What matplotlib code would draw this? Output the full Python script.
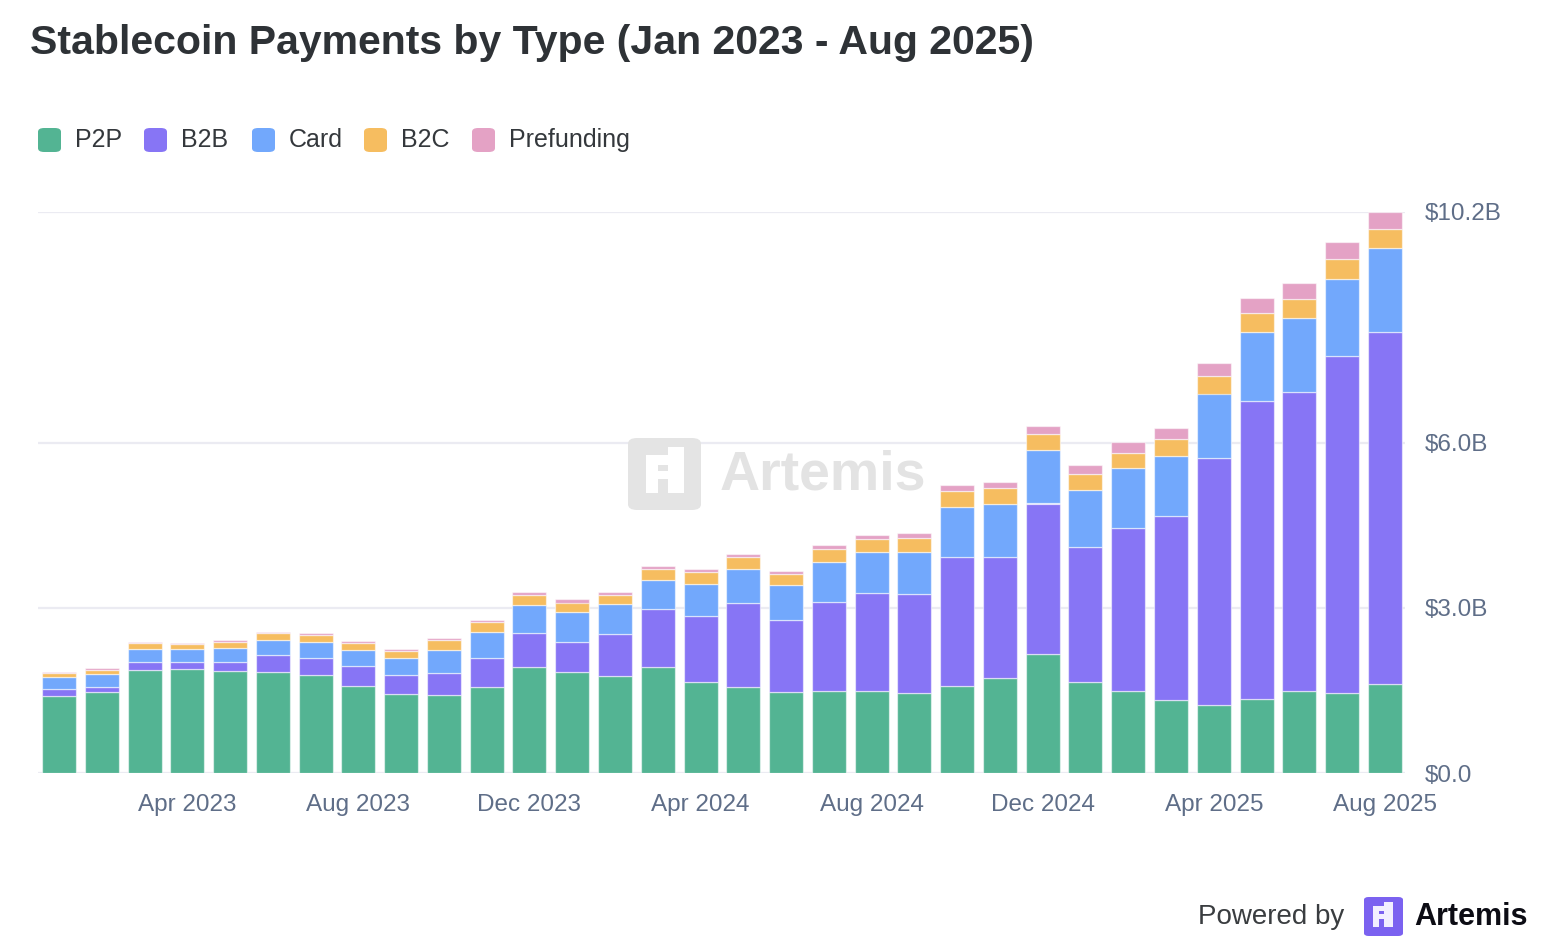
import numpy as np
import matplotlib
matplotlib.use("Agg")
import matplotlib.pyplot as plt
from matplotlib.patches import FancyBboxPatch, Rectangle

plt.rcParams['font.family'] = ['Liberation Sans', 'DejaVu Sans']

# monthly values, Jan 2023 .. Aug 2025, in $B
months = ['Jan 2023', 'Feb 2023', 'Mar 2023', 'Apr 2023', 'May 2023', 'Jun 2023', 'Jul 2023', 'Aug 2023',
          'Sep 2023', 'Oct 2023', 'Nov 2023', 'Dec 2023', 'Jan 2024', 'Feb 2024', 'Mar 2024', 'Apr 2024',
          'May 2024', 'Jun 2024', 'Jul 2024', 'Aug 2024', 'Sep 2024', 'Oct 2024', 'Nov 2024', 'Dec 2024',
          'Jan 2025', 'Feb 2025', 'Mar 2025', 'Apr 2025', 'May 2025', 'Jun 2025', 'Jul 2025', 'Aug 2025']
p2p = [1.40, 1.47, 1.87, 1.90, 1.85, 1.83, 1.78, 1.58, 1.44, 1.42, 1.56, 1.93, 1.83, 1.76, 1.93, 1.66,
       1.57, 1.47, 1.50, 1.49, 1.45, 1.58, 1.72, 2.16, 1.65, 1.49, 1.32, 1.23, 1.34, 1.49, 1.45, 1.61]
b2b = [0.12, 0.09, 0.15, 0.11, 0.16, 0.31, 0.31, 0.36, 0.35, 0.39, 0.54, 0.62, 0.56, 0.76, 1.05, 1.19,
       1.53, 1.32, 1.61, 1.78, 1.80, 2.35, 2.21, 2.74, 2.46, 2.96, 3.35, 4.49, 5.42, 5.44, 6.13, 6.41]
card = [0.23, 0.24, 0.24, 0.24, 0.26, 0.27, 0.30, 0.29, 0.30, 0.42, 0.46, 0.50, 0.54, 0.55, 0.53, 0.59,
        0.61, 0.62, 0.73, 0.75, 0.76, 0.91, 0.96, 0.97, 1.04, 1.10, 1.10, 1.18, 1.26, 1.34, 1.41, 1.52]
b2c = [0.06, 0.08, 0.10, 0.10, 0.12, 0.14, 0.12, 0.14, 0.13, 0.18, 0.18, 0.18, 0.17, 0.17, 0.20, 0.21,
       0.22, 0.20, 0.23, 0.24, 0.27, 0.29, 0.30, 0.29, 0.29, 0.27, 0.30, 0.31, 0.34, 0.34, 0.35, 0.35]
prefunding = [0.02, 0.02, 0.02, 0.01, 0.02, 0.02, 0.04, 0.03, 0.04, 0.05, 0.04, 0.06, 0.06, 0.06, 0.06, 0.06,
              0.06, 0.06, 0.07, 0.07, 0.08, 0.10, 0.11, 0.15, 0.16, 0.19, 0.20, 0.24, 0.28, 0.29, 0.31, 0.31]

series = ['P2P', 'B2B', 'Card', 'B2C', 'Prefunding']
colors = ['#53b493', '#8775f5', '#72a8fc', '#f6bd60', '#e4a2c5']
yticks = [0, 3.0, 6.0, 10.2]
xlabels = ['Apr 2023', 'Aug 2023', 'Dec 2023', 'Apr 2024', 'Aug 2024', 'Dec 2024', 'Apr 2025', 'Aug 2025']

W, H = 1554, 952
fig = plt.figure(figsize=(W / 100, H / 100), dpi=100)
fig.patch.set_facecolor('white')

ax = fig.add_axes([38 / W, (H - 773) / H, (1405 - 38) / W, (773 - 212) / H])
ax.set_facecolor('none')

x = np.arange(len(months))
bottom = np.zeros(len(months))
for name, vals, c in zip(series, [p2p, b2b, card, b2c, prefunding], colors):
    ax.bar(x, vals, bottom=bottom, width=0.795, color=c, edgecolor=(1, 1, 1, 0.55),
           linewidth=0.9, label=name, zorder=3)
    bottom += np.array(vals)

ax.set_xlim(-0.49, 31.47)
ax.set_ylim(0, 10.2)
for s in ax.spines.values():
    s.set_visible(False)
for v in yticks:
    ax.axhline(v, color='#ebebf2', lw=1.6, zorder=1)

ax.yaxis.tick_right()
ax.set_yticks(yticks)
ax.set_yticklabels(['$0.0', '$3.0B', '$6.0B', '$10.2B'])
ax.tick_params(axis='y', length=0, pad=14, labelsize=17.5, labelcolor='#5f6e88')
ax.set_xticks([months.index(m) for m in xlabels])
ax.set_xticklabels(xlabels)
ax.tick_params(axis='x', length=0, pad=15, labelsize=17.5, labelcolor='#5f6e88')

# title
fig.text(30 / W, 1 - 43 / H, 'Stablecoin Payments by Type (Jan 2023 - Aug 2025)', fontsize=29.5,
         fontweight='bold', color='#2e3236', va='center', ha='left')

# legend
lx = [38, 144, 252, 364, 472]
for px, name, c in zip(lx, series, colors):
    fig.patches.append(FancyBboxPatch((px / W, 1 - 152 / H), 23 / W, 24 / H,
                                      boxstyle='round,pad=0,rounding_size=0.004',
                                      transform=fig.transFigure, facecolor=c, edgecolor='none'))
    fig.text((px + 37) / W, 1 - 140 / H, name, fontsize=18, color='#34383c', va='center', ha='left')

# watermark
fig.patches.append(FancyBboxPatch((628 / W, 1 - 510 / H), 73 / W, 72 / H,
                                  boxstyle='round,pad=0,rounding_size=0.006',
                                  transform=fig.transFigure, facecolor='#e4e4e4', edgecolor='none', zorder=0))
for rx, ry, rw, rh in [(646, 455, 12, 16), (658, 455, 10, 10), (668, 447, 16, 46), (646, 471, 22, 8),
                       (646, 479, 12, 14)]:
    fig.patches.append(Rectangle((rx / W, 1 - (ry + rh) / H), rw / W, rh / H,
                                 transform=fig.transFigure, facecolor='white', edgecolor='none', zorder=0))
fig.text(720 / W, 1 - 476 / H, 'Artemis', fontsize=40, fontweight='bold', color='#e3e3e3',
         va='center', ha='left', zorder=0)

# footer
fig.text(1198 / W, 1 - 917 / H, 'Powered by', fontsize=20, color='#3a3d40', va='center', ha='left')
fig.patches.append(FancyBboxPatch((1364 / W, 1 - 936 / H), 39 / W, 39 / H,
                                  boxstyle='round,pad=0,rounding_size=0.003',
                                  transform=fig.transFigure, facecolor='#7b62f0', edgecolor='none'))
for rx, ry, rw, rh in [(1373, 906, 6, 8), (1379, 906, 5, 5), (1384, 902, 9, 25), (1373, 914, 11, 5),
                       (1373, 919, 6, 8)]:
    fig.patches.append(Rectangle((rx / W, 1 - (ry + rh) / H), rw / W, rh / H,
                                 transform=fig.transFigure, facecolor='#f2efff', edgecolor='none'))
fig.text(1414 / W, 1 - 917 / H, 'Artemis', fontsize=22, fontweight='bold', color='#0c0c14',
         va='center', ha='left')

fig.savefig('out.png', dpi=100, facecolor='white')
